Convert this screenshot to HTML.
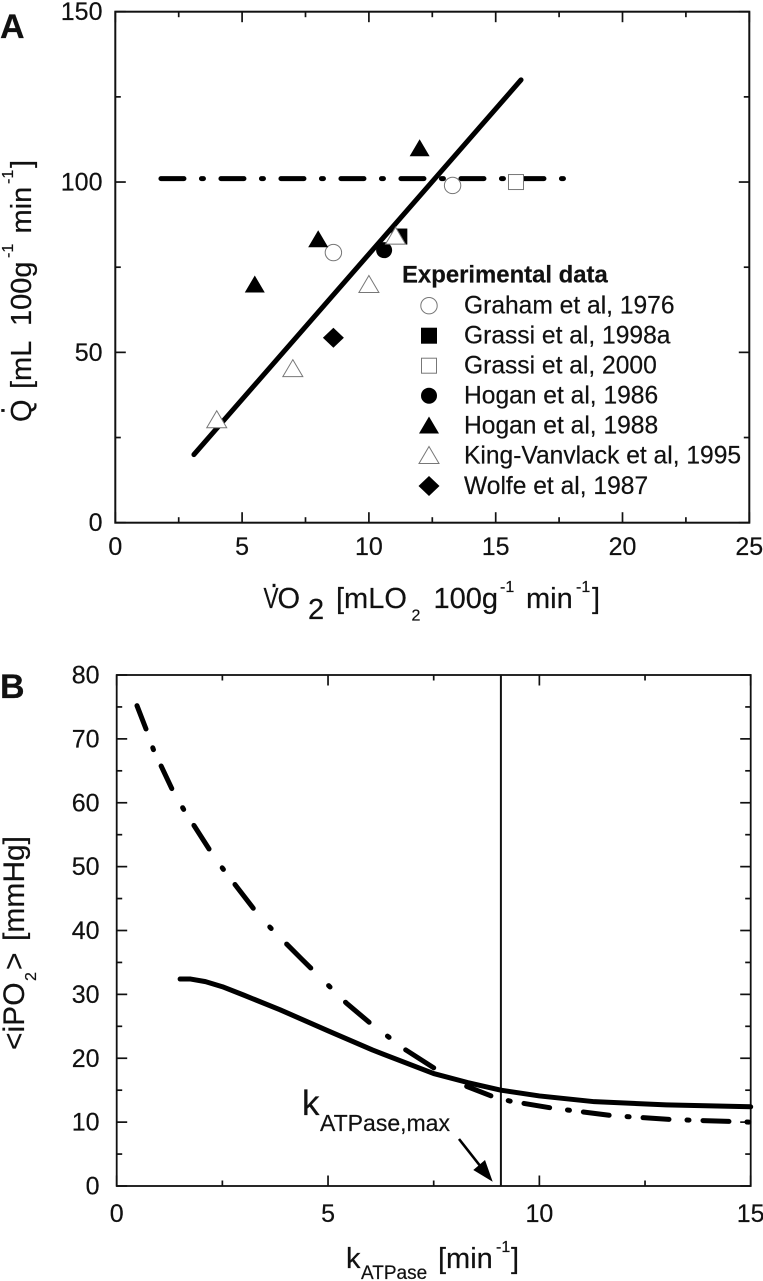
<!DOCTYPE html>
<html lang="en">
<head>
<meta charset="utf-8">
<title>Cardiac output and intracellular PO2 charts</title>
<style>
html,body{margin:0;padding:0;background:#fff;}
svg{display:block;}
text{font-family:"Liberation Sans",sans-serif;fill:#111;stroke:#111;stroke-width:0.2;}
</style>
</head>
<body>
<svg id="fig" xmlns="http://www.w3.org/2000/svg" width="763" height="1281" viewBox="0 0 763 1281">
  <text x="0" y="38" font-size="34" font-weight="bold">A</text>
  <text x="0" y="698" font-size="34" font-weight="bold">B</text>

  <g id="panelA"></g>
  <g id="panelB"></g>

  <g transform="translate(31,422) rotate(-90)">
    <text x="0" y="0" font-size="29">Q</text>
    <text x="7.5" y="-26.5" font-size="29">.</text>
    <text x="33" y="0" font-size="29">[mL</text>
    <text x="96" y="0" font-size="29">100g</text>
    <text x="164" y="-18" font-size="16">-1</text>
    <text x="188.5" y="0" font-size="29">min</text>
    <text x="238" y="-18" font-size="16">-1</text>
    <text x="254" y="0" font-size="29">]</text>
  </g>

  <g>
    <text x="263.5" y="608" font-size="29" textLength="15" lengthAdjust="spacingAndGlyphs">V</text>
    <text x="270" y="587" font-size="29">.</text>
    <text x="277.5" y="608" font-size="29">O</text>
    <text x="308" y="619" font-size="29">2</text>
    <text x="336" y="608" font-size="29">[mLO</text>
    <text x="411.5" y="620.5" font-size="16">2</text>
    <text x="433.5" y="608" font-size="29">100g</text>
    <text x="500" y="592" font-size="16">-1</text>
    <text x="526" y="608" font-size="29">min</text>
    <text x="576" y="592" font-size="16">-1</text>
    <text x="592" y="608" font-size="29">]</text>
  </g>

  <g>
    <text x="402" y="282.5" font-size="23.9" font-weight="bold">Experimental data</text>
    <circle cx="429" cy="305.7" r="8.2" fill="#fff" stroke="#777" stroke-width="1"/>
    <text x="464" y="313.5" font-size="24.6">Graham et al, 1976</text>
    <rect x="421" y="327.7" width="16" height="16" fill="#000"/>
    <text x="464" y="343.5" font-size="24.6">Grassi et al, 1998a</text>
    <rect x="421.5" y="358.2" width="15" height="15" fill="#fff" stroke="#777" stroke-width="1"/>
    <text x="464" y="373.5" font-size="24.6">Grassi et al, 2000</text>
    <circle cx="429" cy="395.7" r="8" fill="#000"/>
    <text x="464" y="403.7" font-size="24.6">Hogan et al, 1986</text>
    <polygon points="429,416.5 439,433.5 419,433.5" fill="#000"/>
    <text x="464" y="433.7" font-size="24.6">Hogan et al, 1988</text>
    <polygon points="429,446.5 439,463.5 419,463.5" fill="#fff" stroke="#777" stroke-width="1"/>
    <text x="464" y="463.7" font-size="24.6">King-Vanvlack et al, 1995</text>
    <polygon points="429,476 439.5,486 429,496 418.5,486" fill="#000"/>
    <text x="464" y="494" font-size="24.6">Wolfe et al, 1987</text>
  </g>

  <g transform="translate(24,1050) rotate(-90)">
    <text x="0" y="0" font-size="30">&lt;iPO</text>
    <text x="69" y="12" font-size="16">2</text>
    <text x="80" y="0" font-size="30">&gt;</text>
    <text x="109" y="0" font-size="30">[mmHg]</text>
  </g>

  <g>
    <text x="346" y="1268" font-size="29">k</text>
    <text x="361" y="1279" font-size="19">ATPase</text>
    <text x="438" y="1268" font-size="29">[min</text>
    <text x="496" y="1252" font-size="16">-1</text>
    <text x="511" y="1268" font-size="29">]</text>
  </g>

  <g>
    <text x="302" y="1115" font-size="35">k</text>
    <text x="320" y="1131" font-size="23">ATPase,max</text>
    <line x1="459" y1="1139" x2="481" y2="1167" stroke="#000" stroke-width="2.6"/>
    <polygon points="492.7,1181.7 473.3,1170 485,1160" fill="#000"/>
  </g>
</svg>
<script>
// Panel A data
const aXTicks = ['0', '5', '10', '15', '20', '25'];
const aYTicks = ['0', '50', '100', '150'];
const aXMinor = [2.5, 7.5, 12.5, 17.5, 22.5];
const aYMinor = [25, 75, 125];
const grahamX = [8.6, 13.3];
const grahamY = [79.3, 99];
const grassi98X = [11.2];
const grassi98Y = [84];
const grassi00X = [15.8];
const grassi00Y = [100];
const hogan86X = [10.6];
const hogan86Y = [80];
const hogan88X = [5.5, 8, 12];
const hogan88Y = [70, 83.3, 110];
const kingX = [4, 7, 10, 11.05];
const kingY = [30.3, 45.3, 70, 84.2];
const wolfeX = [8.6];
const wolfeY = [54.3];
const fitX = [3.1, 16];
const fitY = [20, 130];
const flatX = [1.8, 17.8];
const flatY = [101, 101];

// Panel B data
const bXTicks = ['0', '5', '10', '15'];
const bYTicks = ['0', '10', '20', '30', '40', '50', '60', '70', '80'];
const bXMinor = [2.5, 7.5, 12.5];
const bYMinor = [5, 15, 25, 35, 45, 55, 65, 75];
const solidX = [1.5, 1.75, 2.1, 2.5, 3, 3.86, 5, 6.05, 7.5, 8.3, 9.09, 10, 11.3, 13, 15];
const solidY = [32.4, 32.4, 32, 31.2, 29.9, 27.6, 24.3, 21.3, 17.6, 16.2, 15, 14.1, 13.2, 12.7, 12.4];
const upperX = [0.48, 0.72, 0.87, 1.34, 1.58, 2.23, 2.52, 3.31, 3.67, 4.38, 5.44, 6.05, 6.46, 6.84, 7.5];
const upperY = [75.2, 71.1, 68.3, 61.7, 59, 52.3, 49.6, 42.8, 40.2, 35.5, 28.6, 25.2, 23.2, 21.3, 18.5];
const lowerX = [8.28, 8.9, 9.3, 10.3, 11.74, 13.15, 15];
const lowerY = [15.6, 14, 13.3, 12.2, 11, 10.4, 10];
const markerK = [9.09];

const NS = 'http://www.w3.org/2000/svg';
function make(parent, tag, attrs, txt) {
  const el = document.createElementNS(NS, tag);
  for (const k in attrs) el.setAttribute(k, attrs[k]);
  if (txt !== undefined) el.textContent = txt;
  parent.appendChild(el);
  return el;
}

// Axis functions
const ax = v => 115.3 + v * (749.3 - 115.3) / 25;
const ay = v => 522.7 - v * (522.7 - 11.7) / 150;
const bx = v => 116.7 + v * (750.7 - 116.7) / 15;
const by = v => 1186 - v * (1186 - 675) / 80;

function pathFrom(xs, ys, fx, fy) {
  return xs.map((x, i) => (i ? 'L' : 'M') + fx(x).toFixed(2) + ' ' + fy(ys[i]).toFixed(2)).join(' ');
}

function drawAxes(g, fx, fy, xTicks, yTicks, xMinor, yMinor, xBase, yRight, sw) {
  const L = fx(0), R = fx(Number(xTicks[xTicks.length - 1]));
  const B = fy(0), T = fy(Number(yTicks[yTicks.length - 1]));
  const frame = make(g, 'rect', {x: L, y: T, width: R - L, height: B - T, fill: 'none', stroke: '#111', 'stroke-width': sw});
  
  
  const tickAttr = {stroke: '#111', 'stroke-width': 1.7};
  xTicks.forEach(t => {
    const x = fx(Number(t));
    const a = make(g, 'line', Object.assign({x1: x, x2: x, y1: B, y2: B - 10.5}, tickAttr));
    
    
    const b = make(g, 'line', Object.assign({x1: x, x2: x, y1: T, y2: T + 10.5}, tickAttr));
    
    
    const lab = make(g, 'text', {x: x, y: xBase, 'font-size': 25, 'text-anchor': 'middle'}, t);
    
    
  });
  xMinor.forEach(t => {
    const x = fx(t);
    const a = make(g, 'line', Object.assign({x1: x, x2: x, y1: B, y2: B - 5.5}, tickAttr));
    
    
    const b = make(g, 'line', Object.assign({x1: x, x2: x, y1: T, y2: T + 5.5}, tickAttr));
    
    
  });
  yTicks.forEach(t => {
    const y = fy(Number(t));
    const a = make(g, 'line', Object.assign({x1: L, x2: L + 10.5, y1: y, y2: y}, tickAttr));
    
    
    const b = make(g, 'line', Object.assign({x1: R, x2: R - 10.5, y1: y, y2: y}, tickAttr));
    
    
    const lab = make(g, 'text', {x: yRight, y: y + 8.5, 'font-size': 25, 'text-anchor': 'end'}, t);
    
    
  });
  yMinor.forEach(t => {
    const y = fy(t);
    const a = make(g, 'line', Object.assign({x1: L, x2: L + 5.5, y1: y, y2: y}, tickAttr));
    
    
    const b = make(g, 'line', Object.assign({x1: R, x2: R - 5.5, y1: y, y2: y}, tickAttr));
    
    
  });
}

function drawLine(g, xs, ys, fx, fy, dash, w) {
  const attrs = {d: pathFrom(xs, ys, fx, fy), fill: 'none', stroke: '#000', 'stroke-width': w, 'stroke-linecap': 'round', 'stroke-linejoin': 'round'};
  if (dash) attrs['stroke-dasharray'] = dash;
  return make(g, 'path', attrs);
}

const GREY = '#777';
function circleMark(g, x, y, filled) {
  return filled
    ? make(g, 'circle', {cx: x, cy: y, r: 8, fill: '#000'})
    : make(g, 'circle', {cx: x, cy: y, r: 8.2, fill: '#fff', stroke: GREY, 'stroke-width': 1});
}
function squareMark(g, x, y, filled) {
  return filled
    ? make(g, 'rect', {x: x - 8, y: y - 8, width: 16, height: 16, fill: '#000'})
    : make(g, 'rect', {x: x - 7.5, y: y - 7.5, width: 15, height: 15, fill: '#fff', stroke: GREY, 'stroke-width': 1});
}
function triMark(g, x, y, filled) {
  const pts = `${x},${y - 8.7} ${x + 10},${y + 8.3} ${x - 10},${y + 8.3}`;
  return filled
    ? make(g, 'polygon', {points: pts, fill: '#000'})
    : make(g, 'polygon', {points: pts, fill: '#fff', stroke: GREY, 'stroke-width': 1});
}
function diamondMark(g, x, y) {
  return make(g, 'polygon', {points: `${x},${y - 10} ${x + 10.5},${y} ${x},${y + 10} ${x - 10.5},${y}`, fill: '#000'});
}

// Panel A
const gA = document.getElementById('panelA');
drawAxes(gA, ax, ay, aXTicks, aYTicks, aXMinor, aYMinor, 555, 102.5, 2);
const fitLine = drawLine(gA, fitX, fitY, ax, ay, null, 5);


const flatLine = drawLine(gA, flatX, flatY, ax, ay, '23 17.5 2 17.5', 5);



grassi98X.forEach((v, i) => {
  const m = squareMark(gA, ax(v), ay(grassi98Y[i]), true);
  
  
});
grahamX.forEach((v, i) => {
  const m = circleMark(gA, ax(v), ay(grahamY[i]), false);
  
  
});
grassi00X.forEach((v, i) => {
  const m = squareMark(gA, ax(v), ay(grassi00Y[i]), false);
  
  
});
hogan86X.forEach((v, i) => {
  const m = circleMark(gA, ax(v), ay(hogan86Y[i]), true);
  
  
});
hogan88X.forEach((v, i) => {
  const m = triMark(gA, ax(v), ay(hogan88Y[i]), true);
  
  
});
kingX.forEach((v, i) => {
  const m = triMark(gA, ax(v), ay(kingY[i]), false);
  
  
});
wolfeX.forEach((v, i) => {
  const m = diamondMark(gA, ax(v), ay(wolfeY[i]));
  
  
});

// Panel B
const gB = document.getElementById('panelB');
drawAxes(gB, bx, by, bXTicks, bYTicks, bXMinor, bYMinor, 1222, 99.5, 1.8);
const kLine = make(gB, 'line', {x1: bx(markerK[0]), x2: bx(markerK[0]), y1: by(80), y2: by(0), stroke: '#111', 'stroke-width': 2});


const upper = drawLine(gB, upperX, upperY, bx, by, '25 20 2 18 25 22 2 19 28 23 2 19 30 25 2 22 34 25 2 21.7 31 23 2 20.8 200 100', 5);


const lower = drawLine(gB, lowerX, lowerY, bx, by, '26 18 2 14', 5);


const solid = drawLine(gB, solidX, solidY, bx, by, null, 5);


</script>
</body>
</html>
